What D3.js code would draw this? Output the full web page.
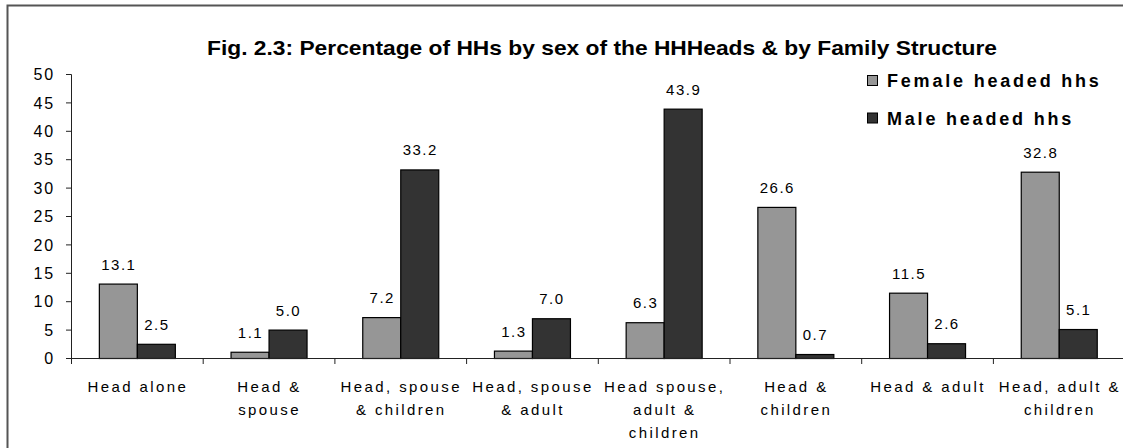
<!DOCTYPE html>
<meta charset="utf-8">
<style>
body { margin: 0; background: #fff; }
svg text { font-family: "Liberation Sans", Arial, sans-serif; fill: #000; }
.lbl { font-size: 15px; letter-spacing: 1.5px; }
.ytick { font-size: 16px; letter-spacing: 1.8px; }
.cat { font-size: 15px; letter-spacing: 2.4px; }
.legend text { font-size: 18px; font-weight: bold; letter-spacing: 2.8px; }
.title { font-family: "Liberation Sans Narrow", "Arial Narrow", "Liberation Sans", sans-serif; font-size: 21px; font-weight: bold; }
</style>
<body>
<script src="https://cdn.jsdelivr.net/npm/d3@7"></script>
<script>

// data
var categories = ["Head alone", "Head & spouse", "Head, spouse & children", "Head, spouse & adult",
                  "Head spouse, adult & children", "Head & children", "Head & adult", "Head, adult & children"];
// how the category labels wrap
var catLines = [["Head alone"], ["Head &", "spouse"], ["Head, spouse", "& children"], ["Head, spouse", "& adult"],
                ["Head spouse,", "adult &", "children"], ["Head &", "children"], ["Head & adult"], ["Head, adult &", "children"]];
var seriesNames = ["Female headed hhs", "Male headed hhs"];
var female = [13.1, 1.1, 7.2, 1.3, 6.3, 26.6, 11.5, 32.8];
var male = [2.5, 5.0, 33.2, 7.0, 43.9, 0.7, 2.6, 5.1];
var yTicks = [0, 5, 10, 15, 20, 25, 30, 35, 40, 45, 50];
var colors = ["#969696", "#333333"];

var W = 1123, H = 448;
var padL = 71, step = 131.7, plotBottom = 358, plotTop = 74;

var svg = d3.select("body").append("svg")
    .attr("width", W)
    .attr("height", H);

// outer frame (right and bottom are cut off in the picture)
svg.append("path")
    .attr("d", "M7.5," + H + "V5.5H" + W)
    .attr("fill", "none")
    .attr("stroke", "#555")
    .attr("stroke-width", 2);

// scales
var x = d3.scaleBand().domain(categories).range([padL, padL + step * categories.length]);
var xs = d3.scaleBand().domain(seriesNames).range([0, x.bandwidth()]).paddingOuter(0.733);
var y = d3.scaleLinear().domain([0, 50]).range([plotBottom, plotTop]);

// title
svg.append("text")
    .attr("class", "title")
    .attr("x", 207)
    .attr("y", 55)
    .attr("textLength", 790)
    .attr("lengthAdjust", "spacingAndGlyphs")
    .text("Fig. 2.3: Percentage of HHs by sex of the HHHeads & by Family Structure");

// bars
var rows = categories.map(function(c, i) {
  return [{cat: c, s: seriesNames[0], v: female[i], k: 0}, {cat: c, s: seriesNames[1], v: male[i], k: 1}];
});
var groups = svg.selectAll(".grp")
    .data(rows)
  .enter().append("g")
    .attr("class", "grp")
    .attr("transform", function(d) { return "translate(" + x(d[0].cat) + ",0)"; });

groups.selectAll("rect")
    .data(function(d) { return d; })
  .enter().append("rect")
    .attr("x", function(d) { return xs(d.s) + 0.5; })
    .attr("y", function(d) { return y(d.v) + 0.5; })
    .attr("width", xs.bandwidth())
    .attr("height", function(d) { return y(0) - y(d.v); })
    .attr("fill", function(d) { return colors[d.k]; })
    .attr("stroke", "#000")
    .attr("stroke-width", 1.2);

groups.selectAll(".lbl")
    .data(function(d) { return d; })
  .enter().append("text")
    .attr("class", "lbl")
    .attr("x", function(d) { return xs(d.s) + xs.bandwidth() / 2 + 1; })
    .attr("y", function(d) { return y(d.v) - 14; })
    .attr("text-anchor", "middle")
    .text(function(d) { return d.v.toFixed(1); });

// y axis
var yAxis = svg.append("g")
    .attr("transform", "translate(" + padL + ",0)")
    .call(d3.axisLeft(y).tickValues(yTicks).tickSize(5).tickPadding(11).tickFormat(d3.format("d")));
yAxis.attr("font-size", null).attr("font-family", null);
yAxis.selectAll("text").attr("class", "ytick").attr("dy", "0.36em");
yAxis.select(".domain").attr("stroke", "#222").attr("d", "M-5," + (plotTop + 0.5) + "H0.5V" + plotBottom);
yAxis.selectAll("line").attr("stroke", "#222");

// x axis
var xAxis = svg.append("g")
    .attr("transform", "translate(0," + plotBottom + ")");
xAxis.append("line")
    .attr("x1", padL).attr("x2", W)
    .attr("y1", 0.5).attr("y2", 0.5)
    .attr("stroke", "#222");
xAxis.selectAll(".tk")
    .data(categories)
  .enter().append("line")
    .attr("class", "tk")
    .attr("x1", function(d) { return x(d) + 0.5; })
    .attr("x2", function(d) { return x(d) + 0.5; })
    .attr("y1", 0).attr("y2", 6)
    .attr("stroke", "#222");

var catText = xAxis.selectAll(".cat")
    .data(categories)
  .enter().append("text")
    .attr("class", "cat")
    .attr("text-anchor", "middle")
    .attr("transform", function(d) { return "translate(" + (x(d) + x.bandwidth() / 2 + 1) + ",34)"; });
catText.selectAll("tspan")
    .data(function(d, i) { return catLines[i]; })
  .enter().append("tspan")
    .attr("x", 0)
    .attr("y", function(d, j) { return j * 23; })
    .text(function(d) { return d; });

// legend
var legend = svg.append("g").attr("class", "legend");
var lg = legend.selectAll("g")
    .data(seriesNames)
  .enter().append("g")
    .attr("transform", function(d, i) { return "translate(867," + (75 + i * 37.5) + ")"; });
lg.append("rect")
    .attr("x", 0.5).attr("y", 0.5)
    .attr("width", 10).attr("height", 10)
    .attr("fill", function(d, i) { return colors[i]; })
    .attr("stroke", "#000");
lg.append("text")
    .attr("x", 20)
    .attr("y", 12)
    .text(function(d) { return d; });

</script>
</body>
